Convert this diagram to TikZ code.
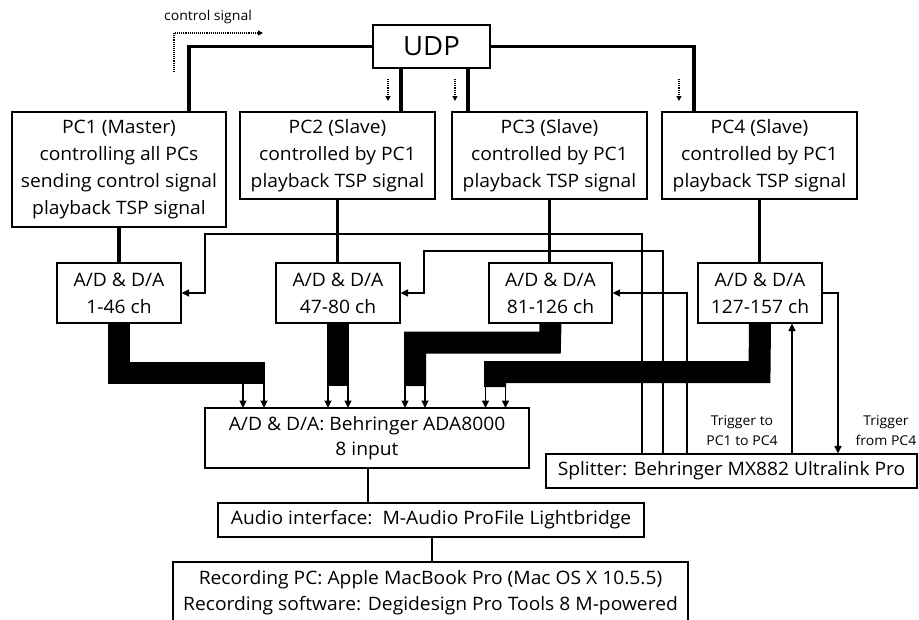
\documentclass[tikz,border=0pt]{standalone}
\usepackage{fontspec}
\setmainfont[FakeStretch=1.04]{Open Sans}
\usetikzlibrary{arrows.meta}
\begin{document}
\begin{tikzpicture}[x=1pt,y=-1pt,
  box/.style={draw,line width=1.2pt,inner sep=0pt,align=center,
    font=\fontsize{18.5}{27}\selectfont},
  thickconn/.style={line width=3.4pt},
  thinconn/.style={line width=1.5pt},
  arr/.style={line width=1.5pt,-{Triangle[length=7.5pt,width=7pt]}},
  dotarr/.style={densely dotted,line width=1.1pt,-{Triangle[length=5pt,width=5pt]}},
  bus/.style={line width=22pt,line join=miter},
  small/.style={font=\fontsize{13.5}{20}\selectfont,align=center,inner sep=0pt}]
\useasboundingbox (0,0) rectangle (919,619);
\fill[white] (0,0) rectangle (919,619);

% nodes
\node[box,minimum width=117pt,minimum height=43pt,font=\fontsize{26.5}{30}\selectfont] (udp) at (431.5,46.5) {UDP};
\node[box,minimum width=214pt,minimum height=115pt] (pc1) at (119,169.5) {PC1 (Master)\\controlling all PCs\\sending control signal\\playback TSP signal};
\node[box,minimum width=195pt,minimum height=87pt] (pc2) at (337.5,155.5) {PC2 (Slave)\\controlled by PC1\\playback TSP signal};
\node[box,minimum width=195pt,minimum height=87pt] (pc3) at (549.5,155.5) {PC3 (Slave)\\controlled by PC1\\playback TSP signal};
\node[box,minimum width=195pt,minimum height=87pt] (pc4) at (759.5,155.5) {PC4 (Slave)\\controlled by PC1\\playback TSP signal};

\node[box,minimum width=124pt,minimum height=60pt] (ad1) at (119,293) {A/D \& D/A\\1-46 ch};
\node[box,minimum width=124pt,minimum height=60pt] (ad2) at (338,293) {A/D \& D/A\\47-80 ch};
\node[box,minimum width=123pt,minimum height=60pt] (ad3) at (550.5,293) {A/D \& D/A\\81-126 ch};
\node[box,minimum width=124pt,minimum height=60pt] (ad4) at (760,293) {A/D \& D/A\\127-157 ch};

\node[box,minimum width=324pt,minimum height=60pt,font=\fontsize{18.5}{25}\selectfont] (ada) at (367,438) {A/D \& D/A: Behringer ADA8000\\8 input};
\node[box,minimum width=371pt,minimum height=34pt] (split) at (731.5,471) {Splitter: Behringer MX882 Ultralink Pro};
\node[box,minimum width=426pt,minimum height=34pt] (audio) at (431,520) {Audio interface:\ \ M-Audio ProFile Lightbridge};
\node[box,minimum width=515pt,minimum height=62pt,font=\fontsize{18.5}{26}\selectfont] (rec) at (430.5,593) {Recording PC: Apple MacBook Pro (Mac OS X 10.5.5)\\Recording software: Degidesign Pro Tools 8 M-powered};

% labels
\node[small] (lcs) at (208,17) {control signal};
\node[small] (ltr1) at (742,431) {Trigger to\\PC1 to PC4};
\node[small] (ltr2) at (886,431) {Trigger\\from PC4};

% control signal indicator
\draw[dotarr] (174,72) -- (174,33) -- (263,33);
\draw[dotarr] (388,79) -- (388,101);
\draw[dotarr] (455,79) -- (455,101);
\draw[dotarr] (679,79) -- (679,101);

% UDP to PCs
\draw[thickconn] (udp.west) -| ([xshift=70pt]pc1.north);
\draw[thickconn] ([xshift=-30.5pt]udp.south) -- ([xshift=-30.5pt]udp.south |- pc2.north);
\draw[thickconn] ([xshift=36.5pt]udp.south) -- ([xshift=36.5pt]udp.south |- pc3.north);
\draw[thickconn] (udp.east) -| ([xshift=-65.5pt]pc4.north);

% PCs to A/D
\draw[thickconn] (pc1.south) -- (pc1.south |- ad1.north);
\draw[thickconn] (pc2.south) -- (pc2.south |- ad2.north);
\draw[thickconn] (pc3.south) -- (pc3.south |- ad3.north);
\draw[thickconn] (pc4.south) -- (pc4.south |- ad4.north);

% splitter trigger lines
\coordinate (r1) at (205,234);
\coordinate (r2) at (424,251);
\draw[arr] ([xshift=-89.5pt]split.north) |- (r1) |- (ad1.east);
\draw[arr] ([xshift=-68.5pt]split.north) |- (r2) |- (ad2.east);
\draw[arr] ([xshift=-44.5pt]split.north) |- (ad3.east);
\draw[arr] ([xshift=60.5pt]split.north) -- ([xshift=60.5pt]split.north |- ad4.south);
\draw[arr] (ad4.east) -| ([xshift=106.5pt]split.north);

% buses
\draw[bus] (ad1.south) |- (265,373);
\draw[bus] (ad2.south) -- (338,386);
\draw[bus] (ad3.south) -- (550,342.5) -- (415,342.5) -- (415,386);
\draw[bus] (ad4.south) -- (759.5,372) -- (495,372) -- (495,387);

\foreach \x/\y in {243/384,264/384,328/386,348/386,405/386,425/386,485.5/387,505.5/387}
  \draw[arr] (\x,\y) -- (\x,408);

% bottom chain
\draw[line width=2.4pt] ([xshift=1pt]ada.south) -- ([xshift=1pt]ada.south |- audio.north);
\draw[line width=2.4pt] ([xshift=1pt]audio.south) -- ([xshift=1pt]audio.south |- rec.north);
\end{tikzpicture}
\end{document}
